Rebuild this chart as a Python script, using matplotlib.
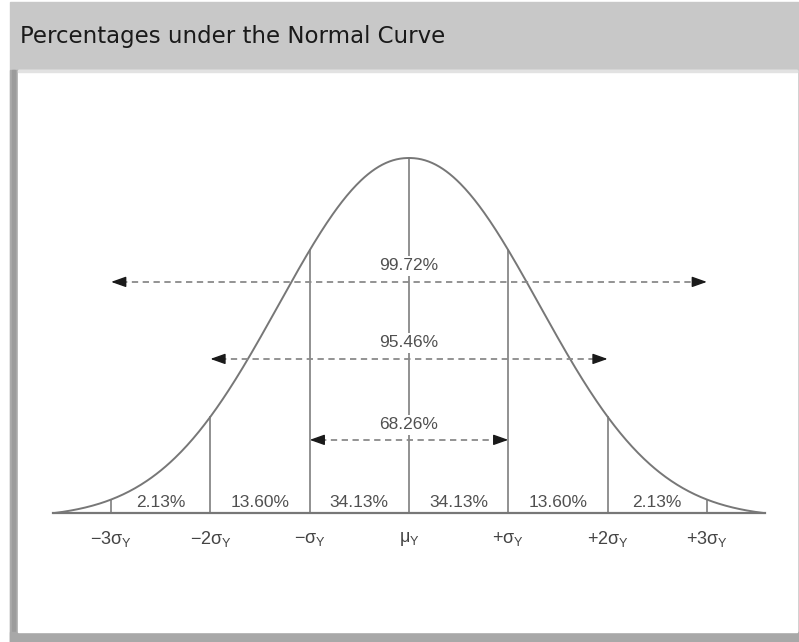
"""
Percentages under the Normal Curve: bell curve with sigma markers,
area percentages between markers and dashed range arrows.
"""

import numpy as np
import matplotlib.pyplot as plt
from matplotlib.patches import Rectangle

plt.rcParams['mathtext.fontset'] = 'custom'
plt.rcParams['mathtext.rm'] = 'Liberation Sans'
plt.rcParams['mathtext.it'] = 'Liberation Sans'

# Data
sigma_pos = [-3, -2, -1, 0, 1, 2, 3]
tick_labels = [r'$-3\sigma_{Y}$', r'$-2\sigma_{Y}$', r'$-\sigma_{Y}$', r'$\mu_{Y}$',
               r'$+\sigma_{Y}$', r'$+2\sigma_{Y}$', r'$+3\sigma_{Y}$']
band_pcts = ['2.13%', '13.60%', '34.13%', '34.13%', '13.60%', '2.13%']
range_k = [3, 2, 1]
range_pcts = ['99.72%', '95.46%', '68.26%']

# Drawing shape of the bell (stylised, wider than a true normal)
spread = 1.3
power = 2.1
tail = 3.57

# Layout (pixels of the 799x642 picture)
W, H = 799, 642
panel = (18, 70, 797, 632)   # left, top, right, bottom
mu_px, sig_px = 409, 99.3
base_px, peak_px = 513, 355
arrow_y = [0.651, 0.434, 0.206]
label_y = [0.696, 0.479, 0.248]


def bell(x):
    e0 = np.exp(-tail ** power / (2 * spread ** 2))
    g = np.exp(-np.abs(np.asarray(x)) ** power / (2 * spread ** 2))
    return (g - e0) / (1 - e0)


def frame_rect(x0, y0, x1, y1, color):
    # rectangle given in picture pixels (y measured from top)
    fig.patches.append(Rectangle((x0 / W, 1 - y1 / H), (x1 - x0) / W, (y1 - y0) / H,
                                 transform=fig.transFigure, color=color, zorder=-5))


fig = plt.figure(figsize=(W / 100, H / 100), dpi=100, facecolor='white')

# grey window frame
frame_rect(10, 2, W, H, '#c8c8c8')
frame_rect(10, 70, 18, H, '#aaaaaa')
frame_rect(12, 70, 15, H, '#9c9c9c')
frame_rect(10, 632, W, H, '#a8a8a8')
l, t, r, b = panel
frame_rect(l, t, r, b, 'white')
frame_rect(l, t, r, t + 1.5, '#e2e2e2')

fig.text(20 / W, 1 - 37 / H, 'Percentages under the Normal Curve', fontsize=16.5,
         family='DejaVu Sans', color='#1a1a1a', va='center', ha='left')

ax = fig.add_axes([l / W, 1 - b / H, (r - l) / W, (b - t) / H])
ax.set_xlim((l - mu_px) / sig_px, (r - mu_px) / sig_px)
ax.set_ylim((base_px - b) / peak_px, (base_px - t) / peak_px)
ax.axis('off')

line_c = '#777777'
xs = np.linspace(-tail, tail, 600)
ax.plot(xs, bell(xs), color=line_c, lw=1.4, zorder=2)
ax.plot([-tail - 0.02, tail + 0.02], [0, 0], color=line_c, lw=1.6, zorder=2)

for x in sigma_pos:
    ax.plot([x, x], [0, bell(x)], color='#888888', lw=1.3, zorder=1)

for lab, x in zip(tick_labels, sigma_pos):
    ax.text(x, -0.072, lab, ha='center', va='center', fontsize=13, color='#444444')

for pct, x in zip(band_pcts, np.array(sigma_pos[:-1]) + 0.5):
    ax.text(x, 0.03, pct, ha='center', va='center', fontsize=12.5,
            family='Liberation Sans', color='#505050', zorder=3)

head = dict(arrowstyle='-|>,head_length=0.9,head_width=0.32', color='#1a1a1a',
            lw=1, shrinkA=0, shrinkB=0)
for k, pct, ay, ly in zip(range_k, range_pcts, arrow_y, label_y):
    ax.plot([-k + 0.1, k - 0.1], [ay, ay], color='#8a8a8a', lw=1.3,
            dashes=(3.5, 2.5), zorder=2)
    for d in (-1, 1):
        ax.annotate('', xy=(d * k, ay), xytext=(d * (k - 0.12), ay),
                    arrowprops=head, zorder=4)
    ax.text(0, ly, pct, ha='center', va='center', fontsize=12.5,
            family='Liberation Sans', color='#505050', zorder=3,
            bbox=dict(facecolor='white', edgecolor='none', pad=1.5))

fig.savefig('out.png', dpi=100, facecolor=fig.get_facecolor())
